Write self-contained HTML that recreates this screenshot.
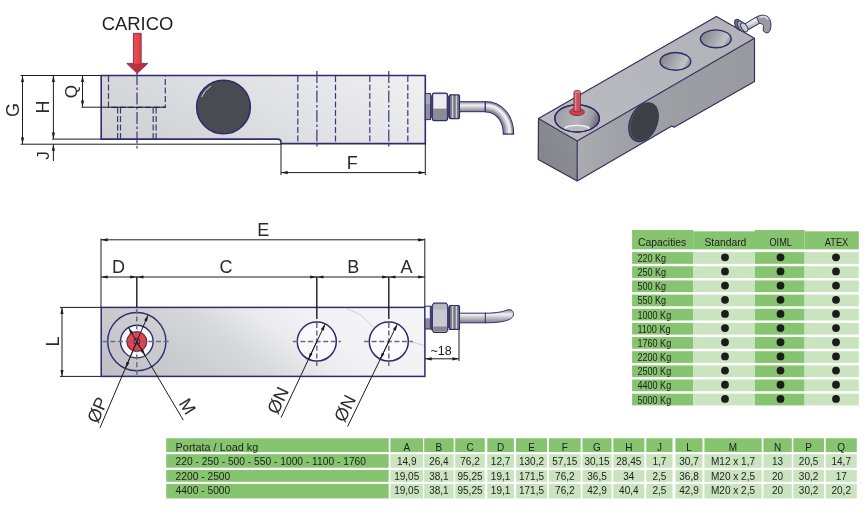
<!DOCTYPE html>
<html>
<head>
<meta charset="utf-8">
<title>Load cell drawing</title>
<style>
html,body{margin:0;padding:0;background:#fff;}
body{width:867px;height:518px;overflow:hidden;font-family:"Liberation Sans",sans-serif;}
svg{display:block;will-change:transform;}
svg text{font-family:"Liberation Sans",sans-serif;fill:#1e1e1e;}
.lbl{fill:#2b2b2b;}
.dim{stroke:#1c1c1c;stroke-width:1;fill:none;}
.ol{stroke:#2f2c6e;stroke-width:1.6;fill:none;}
.hid{stroke:#3a3870;stroke-width:1.2;fill:none;stroke-dasharray:6 2.5;}
.ctr{stroke:#3a3870;stroke-width:1.2;fill:none;stroke-dasharray:12 2.5 2.5 2.5;}
.cl{stroke:#6a6992;stroke-width:1.5;fill:none;stroke-dasharray:5 2.6;}
.lbl{font-size:18px;}
.tb{font-size:10.5px;}
.tc{font-size:10.5px;text-anchor:middle;}
</style>
</head>
<body>
<svg width="867" height="518" viewBox="0 0 867 518">
<defs>
  <linearGradient id="gBody" gradientUnits="userSpaceOnUse" x1="101" y1="143" x2="221" y2="-49">
    <stop offset="0" stop-color="#cecfd3"/>
    <stop offset="1" stop-color="#f0f0f3"/>
  </linearGradient>
  <linearGradient id="gPlan" gradientUnits="userSpaceOnUse" x1="101" y1="376" x2="266.6" y2="169.3">
    <stop offset="0" stop-color="#bebfc4"/>
    <stop offset="0.1" stop-color="#c4c5c9"/>
    <stop offset="0.27" stop-color="#cdced2"/>
    <stop offset="0.41" stop-color="#d8d9dc"/>
    <stop offset="0.55" stop-color="#ebebee"/>
    <stop offset="0.67" stop-color="#f2f2f4"/>
    <stop offset="1" stop-color="#f5f5f7"/>
  </linearGradient>
  <linearGradient id="gArrow" x1="0" y1="0" x2="1" y2="0">
    <stop offset="0" stop-color="#c8323c"/>
    <stop offset="0.4" stop-color="#f04a4a"/>
    <stop offset="1" stop-color="#c42f3a"/>
  </linearGradient>
  <linearGradient id="gCable" x1="0" y1="0" x2="0" y2="1">
    <stop offset="0" stop-color="#8a8a94"/>
    <stop offset="0.35" stop-color="#f2f2f5"/>
    <stop offset="1" stop-color="#7d7d88"/>
  </linearGradient>
  <linearGradient id="gRing" x1="0" y1="0" x2="1" y2="0">
    <stop offset="0" stop-color="#6d6d78"/>
    <stop offset="0.5" stop-color="#c9c9cf"/>
    <stop offset="1" stop-color="#6d6d78"/>
  </linearGradient>
  <marker id="ah" viewBox="0 0 10 6" refX="10" refY="3" markerWidth="7" markerHeight="4" orient="auto-start-reverse" markerUnits="userSpaceOnUse">
    <path d="M0,0.6 L10,3 L0,5.4 Z" fill="#1c1c1c"/>
  </marker>
</defs>

<!-- ================= SIDE VIEW ================= -->
<g id="side">
  <!-- body -->
  <path d="M101.2,75.5 H425.3 V143.6 H281 V142 Q281,139.1 277.5,139.1 H101.2 Z" fill="url(#gBody)" class="ol" style="fill:url(#gBody)"/>
  <!-- big hole -->
  <circle cx="223.5" cy="107" r="26.8" fill="#4a4a53" stroke="#2f2c6e" stroke-width="1.6"/>
  <path d="M201.5,97 A24.5,24.5 0 0 1 211,86" stroke="#e8e8ee" stroke-width="0.9" fill="none"/>
  <!-- hidden lines -->
  <path class="hid" d="M108.5,76 V107.3 H165.3 V76"/>
  <path class="hid" d="M117.6,107.5 V139 M120.5,107.5 V139 M153.2,107.5 V139 M156.1,107.5 V139"/>
  <path class="ctr" d="M137,73 V149"/>
  <path class="hid" d="M297.8,76 V143 M335.5,76 V143 M369.8,76 V143 M407.8,76 V143"/>
  <path class="ctr" d="M316.9,71 V148 M388.8,71 V148"/>
  <!-- dims -->
  <path class="dim" d="M20.5,75.5 H101 M20.5,144.2 H281"/>
  <path class="dim" d="M22.5,75.5 V144.2" marker-start="url(#ah)" marker-end="url(#ah)"/>
  <path class="dim" d="M53.4,75.5 V139.1" marker-start="url(#ah)" marker-end="url(#ah)"/>
  <path class="dim" d="M52,139.1 H101"/>
  <path class="dim" d="M53.4,161 V144.2" marker-end="url(#ah)"/>
  <path class="dim" d="M82.5,75.5 V107.2" marker-start="url(#ah)" marker-end="url(#ah)"/>
  <path class="dim" d="M81.5,107.2 H165.3"/>
  <path class="dim" d="M281,143.5 V175 M425.3,143.5 V175"/>
  <path class="dim" d="M281,172.6 H425.3" marker-start="url(#ah)" marker-end="url(#ah)"/>
  <text class="lbl" x="352.3" y="169" text-anchor="middle">F</text>
  <text class="lbl" transform="translate(18.8,110) rotate(-90)" text-anchor="middle">G</text>
  <text class="lbl" transform="translate(49.3,107) rotate(-90)" text-anchor="middle">H</text>
  <text class="lbl" transform="translate(77.3,91.6) rotate(-90)" text-anchor="middle" style="font-size:17px">Q</text>
  <text class="lbl" transform="translate(49.1,155.6) rotate(-90)" text-anchor="middle" style="font-size:17px">J</text>
  <!-- CARICO arrow -->
  <text x="137.5" y="30.2" text-anchor="middle" style="font-size:18.4px">CARICO</text>
  <path d="M133.4,33.3 H141.2 V63.4 H147.8 L137.2,73.4 L126.8,63.4 H133.4 Z" fill="url(#gArrow)" stroke="#5a2a50" stroke-width="0.8"/>
  <path d="M127.6,63.8 H147 L137.2,72.8 Z" fill="#b8323e"/>
  <!-- connector -->
  <rect x="425.3" y="93.6" width="5.2" height="26" fill="#8e8ea0" stroke="#2f2c6e" stroke-width="1"/>
  <rect x="425.9" y="94.2" width="4.2" height="10" fill="#a9a9b8"/>
  <rect x="430.6" y="95.4" width="2" height="22.6" fill="#4a4870"/>
  <rect x="432.3" y="93.2" width="15.2" height="27.4" rx="2" fill="#8b8b95" stroke="#2f2c6e" stroke-width="1.2"/>
  <path d="M433.4,94.2 H446.4 V108.6 H433.4 Z" fill="#ececf1"/>
  <rect x="447.6" y="96" width="1.8" height="21.6" fill="#4a4870"/>
  <rect x="449.3" y="94.8" width="10.2" height="23.8" rx="1" fill="#73737f" stroke="#2f2c6e" stroke-width="1.2"/>
  <path d="M452.6,95.4 V118 M456.4,95.4 V118" stroke="#cfcfd8" stroke-width="1.5"/>
  <path d="M459.5,101.7 H485.3 V111.7 H459.5 Z" fill="url(#gCable)" stroke="#2f2c6e" stroke-width="1"/>
  <path d="M485.3,106.7 C498,106.7 508.5,117 508.5,134.1" fill="none" stroke="#2f2c6e" stroke-width="11.4"/>
  <path d="M485.8,106.7 C498,106.7 508.5,117 508.5,133.6" fill="none" stroke="#8e8e99" stroke-width="9.4"/>
  <path d="M485.8,106.2 C498.4,106.2 509,117 509,133.6" fill="none" stroke="#c4c4cc" stroke-width="6"/>
  <path d="M485.8,105.6 C498.8,105.6 509.6,117 509.6,133.6" fill="none" stroke="#efeff3" stroke-width="2.6"/>
  <path d="M485.3,101.2 V112.2 M502.8,134.2 H514.2" stroke="#2f2c6e" stroke-width="1"/>
</g>

<!-- ================= ISO VIEW ================= -->
<g id="iso">
  <defs>
    <linearGradient id="gTop" x1="0" y1="1" x2="1" y2="0">
      <stop offset="0" stop-color="#bbbcc1"/><stop offset="1" stop-color="#b1b2b7"/>
    </linearGradient>
    <linearGradient id="gFront" x1="0" y1="0" x2="1" y2="0">
      <stop offset="0" stop-color="#abacb0"/><stop offset="0.25" stop-color="#a0a1a6"/><stop offset="1" stop-color="#999a9f"/>
    </linearGradient>
    <linearGradient id="gLeft" x1="0" y1="1" x2="1" y2="0">
      <stop offset="0" stop-color="#818287"/><stop offset="1" stop-color="#909196"/>
    </linearGradient>
    <linearGradient id="gHole" x1="0" y1="0" x2="1" y2="0.3">
      <stop offset="0" stop-color="#7d7e85"/><stop offset="0.55" stop-color="#a6a7ac"/><stop offset="0.9" stop-color="#c2c3c7"/><stop offset="1" stop-color="#a0a1a7"/>
    </linearGradient>
    <linearGradient id="gHoleL" x1="0" y1="0" x2="1" y2="0.2">
      <stop offset="0" stop-color="#9a9ba1"/><stop offset="0.6" stop-color="#b4b5ba"/><stop offset="0.88" stop-color="#9d9ea4"/><stop offset="1" stop-color="#77787f"/>
    </linearGradient>
  </defs>
  <path d="M538.5,118.6 L577.2,141 L577.2,181 L538.2,159.5 Z" fill="url(#gLeft)"/>
  <path d="M577.2,141 L754.5,38.3 L754.5,81.6 L674.1,127.3 L671.8,125.9 L577.2,181 Z" fill="url(#gFront)"/>
  <path d="M538.5,118.6 L716.4,16.4 L754.5,38.3 L577.2,141 Z" fill="url(#gTop)"/>
  <path d="M538.5,118.6 L716.4,16.4 L754.5,38.3 L754.5,81.6 L674.1,127.3 L671.8,125.9 L577.2,181 L538.2,159.5 Z M538.5,118.6 L577.2,141 L754.5,38.3 M577.2,141 V181" fill="none" stroke="#33315f" stroke-width="1.2" stroke-linejoin="round"/>
  <!-- left hole -->
  <ellipse cx="577.1" cy="118.4" rx="22.3" ry="13.6" fill="url(#gHoleL)" stroke="#2d2b64" stroke-width="1.3"/>
  <path d="M565.2,129.5 A12,3.4 0 0 1 589,129.5" fill="none" stroke="#f4f4f6" stroke-width="1.1"/>
  <path d="M564.5,128.6 A12.6,3.6 0 0 1 589.6,128.6 Q577,134.5 564.5,128.6 Z" fill="#b9babf" stroke="none"/>
  <path d="M564.6,128.8 A12.4,3.4 0 0 1 589.4,128.8" fill="none" stroke="#f7f7f9" stroke-width="1.2"/>
  <ellipse cx="577.1" cy="118.4" rx="22.3" ry="13.6" fill="none" stroke="#2d2b64" stroke-width="1.3"/>
  <!-- red pin -->
  <ellipse cx="577" cy="112" rx="7.4" ry="3.6" fill="#d2404e" stroke="#7a2a48" stroke-width="0.9"/>
  <path d="M573.9,92.2 Q573.9,90.3 577.2,90.3 Q580.5,90.3 580.5,92.2 V111.4 Q577.2,112.6 573.9,111.4 Z" fill="#c9505a" stroke="#7a2a48" stroke-width="0.8"/>
  <path d="M575.6,93.5 V110.5" stroke="#e5858c" stroke-width="1.4"/>
  <ellipse cx="577.2" cy="92" rx="3" ry="1.3" fill="#dc7a82"/>
  <!-- mid / right holes -->
  <ellipse cx="675.4" cy="61.4" rx="15.3" ry="8.9" fill="url(#gHole)" stroke="#2d2b64" stroke-width="1.4"/>
  <ellipse cx="715.8" cy="38.8" rx="15.4" ry="8.9" fill="url(#gHole)" stroke="#2d2b64" stroke-width="1.4"/>
  <!-- side hole -->
  <ellipse cx="643.5" cy="122.2" rx="13.4" ry="20.3" transform="rotate(24 643.5 122.2)" fill="#57575f" stroke="#2f2d5c" stroke-width="1.2"/>
  <ellipse cx="644.4" cy="121.6" rx="12.4" ry="19.6" transform="rotate(24 644.4 121.6)" fill="#3f3f46"/>
  <!-- iso connector -->
  <g>
    <linearGradient id="gIsoCable" x1="0" y1="0" x2="0.5" y2="1">
      <stop offset="0" stop-color="#8f8f99"/><stop offset="0.45" stop-color="#f4f4f7"/><stop offset="1" stop-color="#8a8a95"/>
    </linearGradient>
    <path d="M744.5,24.3 L756.4,17 C760,14.8 765,14.4 768,17 C771,19.8 771.3,25 770.6,28 C770,31.5 768.6,33.1 767,32.9 C765,32.6 763.3,31.6 763.2,30 C763.3,27.5 764,25.6 762.7,24.5 C761.6,23.6 760,23.2 758.8,23.6 L747.6,30 Z" fill="#9a9aa5" stroke="#33315f" stroke-width="1"/>
    <path d="M744.5,24.3 L756.4,17 L759.3,23.3 L747.6,30 Z" fill="url(#gIsoCable)" stroke="#33315f" stroke-width="0.9"/>
    <path d="M759.5,17.6 C763,15.8 766.5,16.6 768.3,19.5" stroke="#e4e4ea" stroke-width="1.4" fill="none"/>
    <ellipse cx="739" cy="25" rx="3.6" ry="6.3" transform="rotate(-32 739 25)" fill="#6f6f7a" stroke="#33315f" stroke-width="1"/>
    <ellipse cx="741.6" cy="26.2" rx="3.4" ry="6" transform="rotate(-32 741.6 26.2)" fill="#a4a4ae" stroke="#33315f" stroke-width="1"/>
    <ellipse cx="744.3" cy="27.3" rx="2.8" ry="5" transform="rotate(-32 744.3 27.3)" fill="#c9c9d0" stroke="#33315f" stroke-width="0.9"/>
  </g>
</g>

<!-- ================= PLAN VIEW ================= -->
<g id="plan">
  <rect x="101.2" y="307.4" width="323.7" height="69" fill="url(#gPlan)" stroke="#2f2c6e" stroke-width="1.5"/>
  <!-- faint scratch -->
  <path d="M345.8,308.2 L359.7,314.1 L374.5,328 M408.4,341 L424,345.4" stroke="#bfc0c6" stroke-width="0.7" fill="none"/>
  <!-- left hole group -->
  <circle cx="136.8" cy="341.6" r="29.1" fill="none" stroke="#2f2c6e" stroke-width="1.4"/>
  <circle cx="136.8" cy="341.6" r="16.3" fill="#f8f8fa" stroke="#2f2c6e" stroke-width="1.4"/>
  <circle cx="136.8" cy="341.6" r="9.9" fill="#e7434b" stroke="#7a2840" stroke-width="1.3"/>
  <circle cx="136.8" cy="341.6" r="3.1" fill="none" stroke="#3a2350" stroke-width="1"/>
  <path class="cl" d="M102.8,341.6 H170.6"/>
  <path class="cl" d="M136.8,309 V376"/>
  <!-- holes N -->
  <circle cx="316.8" cy="341.6" r="19.5" fill="#f9f9fb" stroke="#2f2c6e" stroke-width="1.5"/>
  <circle cx="388.8" cy="341.6" r="19.5" fill="#fbfbfc" stroke="#2f2c6e" stroke-width="1.5"/>
  <path class="cl" d="M292.8,341.6 H341 M364,341.6 H412.8"/>
  <path class="cl" d="M316.8,323 V366.3 M388.8,323 V366.3"/>
  <!-- dims -->
  <path class="dim" d="M101,238.5 V307 M424.8,238.5 V307"/>
  <path class="dim" d="M101,239.8 H424.8" marker-start="url(#ah)" marker-end="url(#ah)"/>
  <path class="dim" d="M101,277 H136.8" marker-start="url(#ah)" marker-end="url(#ah)"/>
  <path class="dim" d="M136.8,277 H316.8" marker-start="url(#ah)" marker-end="url(#ah)"/>
  <path class="dim" d="M316.8,277 H388.8" marker-start="url(#ah)" marker-end="url(#ah)"/>
  <path class="dim" d="M388.8,277 H424.8" marker-start="url(#ah)" marker-end="url(#ah)"/>
  <path class="dim" d="M136.8,276.5 V307 M316.8,276.5 V319 M388.8,276.5 V319" style="stroke-width:1.4"/>
  <path class="dim" d="M60,307.4 H101 M60,376.4 H101"/>
  <path class="dim" d="M62,307.4 V376.4" marker-start="url(#ah)" marker-end="url(#ah)"/>
  <path class="dim" d="M100,427.8 L148.2,314.8" marker-end="url(#ah)"/>
  <path class="dim" d="M136.8,341.6 L125.4,368.4" marker-end="url(#ah)"/>
  <path class="dim" d="M183.3,420.2 L128.5,327.6" marker-end="url(#ah)"/>
  <path class="dim" d="M136.8,341.6 L145.1,355.6" marker-end="url(#ah)"/>
  <path class="dim" d="M281,417.7 L325.1,324.0" marker-end="url(#ah)"/>
  <path class="dim" d="M316.8,341.6 L308.5,359.2" marker-end="url(#ah)"/>
  <path class="dim" d="M347.6,426.5 L397.3,324.1" marker-end="url(#ah)"/>
  <path class="dim" d="M388.8,341.6 L380.3,359.1" marker-end="url(#ah)"/>
  <!-- labels -->
  <text class="lbl" x="263.3" y="235.8" text-anchor="middle">E</text>
  <text class="lbl" x="118.4" y="273" text-anchor="middle">D</text>
  <text class="lbl" x="226" y="273" text-anchor="middle">C</text>
  <text class="lbl" x="353.2" y="273" text-anchor="middle">B</text>
  <text class="lbl" x="406.5" y="273" text-anchor="middle">A</text>
  <text class="lbl" transform="translate(59,341.6) rotate(-90)" text-anchor="middle">L</text>
  <text class="lbl" transform="translate(103,412.3) rotate(-67)" text-anchor="middle" style="font-size:18px">ØP</text>
  <text class="lbl" transform="translate(182.2,409.6) rotate(58)" text-anchor="middle" style="font-size:18px">M</text>
  <text class="lbl" transform="translate(283.5,403) rotate(-65)" text-anchor="middle" style="font-size:18px">ØN</text>
  <text class="lbl" transform="translate(350.5,411) rotate(-64)" text-anchor="middle" style="font-size:18px">ØN</text>
  <!-- connector plan -->
  <rect x="425" y="306.2" width="5.4" height="22.8" fill="#8a8a96" stroke="#2f2c6e" stroke-width="1"/>
  <rect x="425.7" y="306.9" width="4" height="11.4" fill="#f6f6f9"/>
  <rect x="430.5" y="306" width="2" height="24" fill="#4a4870"/>
  <path d="M434,303.1 H446 L447.7,305.4 V330.2 L446,332.5 H434 L432.3,330.2 V305.4 Z" fill="#c9c9d0" stroke="#2f2c6e" stroke-width="1.2"/>
  <path d="M433.2,326.4 H446.9 V330 L445.7,331.7 H434.4 L433.2,330 Z" fill="#878792"/>
  <path d="M433.2,309.8 H446.9 V305.6 L445.7,303.9 H434.4 L433.2,305.6 Z" fill="#b7b7c0"/>
  <rect x="447.7" y="307" width="1.8" height="21" fill="#4a4870"/>
  <rect x="449.3" y="305.5" width="10.2" height="23.9" rx="1" fill="#73737f" stroke="#2f2c6e" stroke-width="1.2"/>
  <path d="M452.6,306.1 V328.8 M456.4,306.1 V328.8" stroke="#cfcfd8" stroke-width="1.5"/>
  <path d="M459.5,313.2 H485.3 C497,313.2 503,311.6 507,310 C511.5,308.6 514,311.5 513.4,315 C512.6,319.5 505,322.8 485.3,322.8 H459.5 Z" fill="url(#gCable)" stroke="#2f2c6e" stroke-width="1"/>
  <path d="M485.3,312.6 V323.2" stroke="#2f2c6e" stroke-width="1"/>
  <!-- ~18 -->
  <path class="dim" d="M459,329.5 V361"/>
  <path class="dim" d="M425,358.8 H459" marker-start="url(#ah)" marker-end="url(#ah)"/>
  <text x="441" y="354.6" text-anchor="middle" style="font-size:12.5px">~18</text>
</g>

<!--TABLES-->
<g id="cap">
<rect x="632.1" y="230.0" width="61.1" height="19.3" fill="#86c46f"/>
<rect x="693.2" y="231.3" width="61.8" height="18.0" fill="#86c46f"/>
<rect x="755" y="230.0" width="49.6" height="19.3" fill="#86c46f"/>
<rect x="804.6" y="231.3" width="54.2" height="18.0" fill="#86c46f"/>
<text class="tb" transform="translate(638.0,245.7) scale(0.985,1)">Capacities</text>
<text class="tb" transform="translate(725.4,245.7) scale(0.985,1)" text-anchor="middle">Standard</text>
<text class="tb" transform="translate(780.7,245.7) scale(0.875,1)" text-anchor="middle">OIML</text>
<text class="tb" transform="translate(836.5,245.7) scale(0.885,1)" text-anchor="middle">ATEX</text>
<rect x="632.1" y="252.10" width="61.1" height="11.7" fill="#86c46f"/>
<rect x="693.2" y="252.10" width="61.8" height="11.7" fill="#c9e4bf"/>
<rect x="755" y="252.10" width="49.6" height="11.7" fill="#86c46f"/>
<rect x="804.6" y="252.10" width="54.2" height="11.7" fill="#c9e4bf"/>
<text class="tb" transform="translate(637.4,261.9) scale(0.865,1)">220 Kg</text>
<circle cx="725" cy="257.30" r="3.9" fill="#1c1c1c"/>
<circle cx="780.5" cy="257.30" r="3.9" fill="#1c1c1c"/>
<circle cx="836" cy="257.30" r="3.9" fill="#1c1c1c"/>
<rect x="632.1" y="266.26" width="61.1" height="11.7" fill="#86c46f"/>
<rect x="693.2" y="266.26" width="61.8" height="11.7" fill="#c9e4bf"/>
<rect x="755" y="266.26" width="49.6" height="11.7" fill="#86c46f"/>
<rect x="804.6" y="266.26" width="54.2" height="11.7" fill="#c9e4bf"/>
<text class="tb" transform="translate(637.4,276.1) scale(0.865,1)">250 Kg</text>
<circle cx="725" cy="271.46" r="3.9" fill="#1c1c1c"/>
<circle cx="780.5" cy="271.46" r="3.9" fill="#1c1c1c"/>
<circle cx="836" cy="271.46" r="3.9" fill="#1c1c1c"/>
<rect x="632.1" y="280.42" width="61.1" height="11.7" fill="#86c46f"/>
<rect x="693.2" y="280.42" width="61.8" height="11.7" fill="#c9e4bf"/>
<rect x="755" y="280.42" width="49.6" height="11.7" fill="#86c46f"/>
<rect x="804.6" y="280.42" width="54.2" height="11.7" fill="#c9e4bf"/>
<text class="tb" transform="translate(637.4,290.2) scale(0.865,1)">500 Kg</text>
<circle cx="725" cy="285.62" r="3.9" fill="#1c1c1c"/>
<circle cx="780.5" cy="285.62" r="3.9" fill="#1c1c1c"/>
<circle cx="836" cy="285.62" r="3.9" fill="#1c1c1c"/>
<rect x="632.1" y="294.58" width="61.1" height="11.7" fill="#86c46f"/>
<rect x="693.2" y="294.58" width="61.8" height="11.7" fill="#c9e4bf"/>
<rect x="755" y="294.58" width="49.6" height="11.7" fill="#86c46f"/>
<rect x="804.6" y="294.58" width="54.2" height="11.7" fill="#c9e4bf"/>
<text class="tb" transform="translate(637.4,304.4) scale(0.865,1)">550 Kg</text>
<circle cx="725" cy="299.78" r="3.9" fill="#1c1c1c"/>
<circle cx="780.5" cy="299.78" r="3.9" fill="#1c1c1c"/>
<circle cx="836" cy="299.78" r="3.9" fill="#1c1c1c"/>
<rect x="632.1" y="308.74" width="61.1" height="11.7" fill="#86c46f"/>
<rect x="693.2" y="308.74" width="61.8" height="11.7" fill="#c9e4bf"/>
<rect x="755" y="308.74" width="49.6" height="11.7" fill="#86c46f"/>
<rect x="804.6" y="308.74" width="54.2" height="11.7" fill="#c9e4bf"/>
<text class="tb" transform="translate(637.4,318.5) scale(0.865,1)">1000 Kg</text>
<circle cx="725" cy="313.94" r="3.9" fill="#1c1c1c"/>
<circle cx="780.5" cy="313.94" r="3.9" fill="#1c1c1c"/>
<circle cx="836" cy="313.94" r="3.9" fill="#1c1c1c"/>
<rect x="632.1" y="322.90" width="61.1" height="11.7" fill="#86c46f"/>
<rect x="693.2" y="322.90" width="61.8" height="11.7" fill="#c9e4bf"/>
<rect x="755" y="322.90" width="49.6" height="11.7" fill="#86c46f"/>
<rect x="804.6" y="322.90" width="54.2" height="11.7" fill="#c9e4bf"/>
<text class="tb" transform="translate(637.4,332.7) scale(0.865,1)">1100 Kg</text>
<circle cx="725" cy="328.10" r="3.9" fill="#1c1c1c"/>
<circle cx="780.5" cy="328.10" r="3.9" fill="#1c1c1c"/>
<circle cx="836" cy="328.10" r="3.9" fill="#1c1c1c"/>
<rect x="632.1" y="337.06" width="61.1" height="11.7" fill="#86c46f"/>
<rect x="693.2" y="337.06" width="61.8" height="11.7" fill="#c9e4bf"/>
<rect x="755" y="337.06" width="49.6" height="11.7" fill="#86c46f"/>
<rect x="804.6" y="337.06" width="54.2" height="11.7" fill="#c9e4bf"/>
<text class="tb" transform="translate(637.4,346.9) scale(0.865,1)">1760 Kg</text>
<circle cx="725" cy="342.26" r="3.9" fill="#1c1c1c"/>
<circle cx="780.5" cy="342.26" r="3.9" fill="#1c1c1c"/>
<circle cx="836" cy="342.26" r="3.9" fill="#1c1c1c"/>
<rect x="632.1" y="351.22" width="61.1" height="11.7" fill="#86c46f"/>
<rect x="693.2" y="351.22" width="61.8" height="11.7" fill="#c9e4bf"/>
<rect x="755" y="351.22" width="49.6" height="11.7" fill="#86c46f"/>
<rect x="804.6" y="351.22" width="54.2" height="11.7" fill="#c9e4bf"/>
<text class="tb" transform="translate(637.4,361.0) scale(0.865,1)">2200 Kg</text>
<circle cx="725" cy="356.42" r="3.9" fill="#1c1c1c"/>
<circle cx="780.5" cy="356.42" r="3.9" fill="#1c1c1c"/>
<circle cx="836" cy="356.42" r="3.9" fill="#1c1c1c"/>
<rect x="632.1" y="365.38" width="61.1" height="11.7" fill="#86c46f"/>
<rect x="693.2" y="365.38" width="61.8" height="11.7" fill="#c9e4bf"/>
<rect x="755" y="365.38" width="49.6" height="11.7" fill="#86c46f"/>
<rect x="804.6" y="365.38" width="54.2" height="11.7" fill="#c9e4bf"/>
<text class="tb" transform="translate(637.4,375.2) scale(0.865,1)">2500 Kg</text>
<circle cx="725" cy="370.58" r="3.9" fill="#1c1c1c"/>
<circle cx="780.5" cy="370.58" r="3.9" fill="#1c1c1c"/>
<circle cx="836" cy="370.58" r="3.9" fill="#1c1c1c"/>
<rect x="632.1" y="379.54" width="61.1" height="11.7" fill="#86c46f"/>
<rect x="693.2" y="379.54" width="61.8" height="11.7" fill="#c9e4bf"/>
<rect x="755" y="379.54" width="49.6" height="11.7" fill="#86c46f"/>
<rect x="804.6" y="379.54" width="54.2" height="11.7" fill="#c9e4bf"/>
<text class="tb" transform="translate(637.4,389.3) scale(0.865,1)">4400 Kg</text>
<circle cx="725" cy="384.74" r="3.9" fill="#1c1c1c"/>
<circle cx="780.5" cy="384.74" r="3.9" fill="#1c1c1c"/>
<circle cx="836" cy="384.74" r="3.9" fill="#1c1c1c"/>
<rect x="632.1" y="393.70" width="61.1" height="11.7" fill="#86c46f"/>
<rect x="693.2" y="393.70" width="61.8" height="11.7" fill="#c9e4bf"/>
<rect x="755" y="393.70" width="49.6" height="11.7" fill="#86c46f"/>
<rect x="804.6" y="393.70" width="54.2" height="11.7" fill="#c9e4bf"/>
<text class="tb" transform="translate(637.4,403.5) scale(0.865,1)">5000 Kg</text>
<circle cx="725" cy="398.90" r="3.9" fill="#1c1c1c"/>
<circle cx="780.5" cy="398.90" r="3.9" fill="#1c1c1c"/>
<circle cx="836" cy="398.90" r="3.9" fill="#1c1c1c"/>
</g>
<g id="dimt">
<rect x="166.2" y="438.2" width="222.5" height="13.9" fill="#86c46f"/>
<text class="tb" transform="translate(175.6,450.5) scale(1.035,1)">Portata / Load kg</text>
<rect x="166.2" y="454.2" width="222.5" height="13.5" fill="#86c46f"/>
<text class="tb" transform="translate(175.6,464.9) scale(0.976,1)">220 - 250 - 500 - 550 - 1000 - 1100 - 1760</text>
<rect x="166.2" y="470" width="222.5" height="11.8" fill="#86c46f"/>
<text class="tb" transform="translate(175.6,479.7) scale(0.976,1)">2200 - 2500</text>
<rect x="166.2" y="483.9" width="222.5" height="14.5" fill="#86c46f"/>
<text class="tb" transform="translate(175.6,494.2) scale(0.976,1)">4400 - 5000</text>
<rect x="390.4" y="438.2" width="32.6" height="13.9" fill="#86c46f"/>
<text class="tb" transform="translate(406.7,450.5) scale(0.95,1)" text-anchor="middle">A</text>
<rect x="390.4" y="454.2" width="32.6" height="13.5" fill="#c9e4bf"/>
<text class="tb" transform="translate(406.7,464.9) scale(0.955,1)" text-anchor="middle">14,9</text>
<rect x="390.4" y="470" width="32.6" height="11.8" fill="#c9e4bf"/>
<text class="tb" transform="translate(406.7,479.7) scale(0.955,1)" text-anchor="middle">19,05</text>
<rect x="390.4" y="483.9" width="32.6" height="14.5" fill="#c9e4bf"/>
<text class="tb" transform="translate(406.7,494.2) scale(0.955,1)" text-anchor="middle">19,05</text>
<rect x="424.2" y="438.2" width="29.5" height="13.9" fill="#86c46f"/>
<text class="tb" transform="translate(438.9,450.5) scale(0.95,1)" text-anchor="middle">B</text>
<rect x="424.2" y="454.2" width="29.5" height="13.5" fill="#c9e4bf"/>
<text class="tb" transform="translate(438.9,464.9) scale(0.955,1)" text-anchor="middle">26,4</text>
<rect x="424.2" y="470" width="29.5" height="11.8" fill="#c9e4bf"/>
<text class="tb" transform="translate(438.9,479.7) scale(0.955,1)" text-anchor="middle">38,1</text>
<rect x="424.2" y="483.9" width="29.5" height="14.5" fill="#c9e4bf"/>
<text class="tb" transform="translate(438.9,494.2) scale(0.955,1)" text-anchor="middle">38,1</text>
<rect x="455.2" y="438.2" width="29.6" height="13.9" fill="#86c46f"/>
<text class="tb" transform="translate(470.0,450.5) scale(0.95,1)" text-anchor="middle">C</text>
<rect x="455.2" y="454.2" width="29.6" height="13.5" fill="#c9e4bf"/>
<text class="tb" transform="translate(470.0,464.9) scale(0.955,1)" text-anchor="middle">76,2</text>
<rect x="455.2" y="470" width="29.6" height="11.8" fill="#c9e4bf"/>
<text class="tb" transform="translate(470.0,479.7) scale(0.955,1)" text-anchor="middle">95,25</text>
<rect x="455.2" y="483.9" width="29.6" height="14.5" fill="#c9e4bf"/>
<text class="tb" transform="translate(470.0,494.2) scale(0.955,1)" text-anchor="middle">95,25</text>
<rect x="487.3" y="438.2" width="26.6" height="13.9" fill="#86c46f"/>
<text class="tb" transform="translate(500.6,450.5) scale(0.95,1)" text-anchor="middle">D</text>
<rect x="487.3" y="454.2" width="26.6" height="13.5" fill="#c9e4bf"/>
<text class="tb" transform="translate(500.6,464.9) scale(0.955,1)" text-anchor="middle">12,7</text>
<rect x="487.3" y="470" width="26.6" height="11.8" fill="#c9e4bf"/>
<text class="tb" transform="translate(500.6,479.7) scale(0.955,1)" text-anchor="middle">19,1</text>
<rect x="487.3" y="483.9" width="26.6" height="14.5" fill="#c9e4bf"/>
<text class="tb" transform="translate(500.6,494.2) scale(0.955,1)" text-anchor="middle">19,1</text>
<rect x="516" y="438.2" width="31.0" height="13.9" fill="#86c46f"/>
<text class="tb" transform="translate(531.5,450.5) scale(0.95,1)" text-anchor="middle">E</text>
<rect x="516" y="454.2" width="31.0" height="13.5" fill="#c9e4bf"/>
<text class="tb" transform="translate(531.5,464.9) scale(0.955,1)" text-anchor="middle">130,2</text>
<rect x="516" y="470" width="31.0" height="11.8" fill="#c9e4bf"/>
<text class="tb" transform="translate(531.5,479.7) scale(0.955,1)" text-anchor="middle">171,5</text>
<rect x="516" y="483.9" width="31.0" height="14.5" fill="#c9e4bf"/>
<text class="tb" transform="translate(531.5,494.2) scale(0.955,1)" text-anchor="middle">171,5</text>
<rect x="548.9" y="438.2" width="31.8" height="13.9" fill="#86c46f"/>
<text class="tb" transform="translate(564.8,450.5) scale(0.95,1)" text-anchor="middle">F</text>
<rect x="548.9" y="454.2" width="31.8" height="13.5" fill="#c9e4bf"/>
<text class="tb" transform="translate(564.8,464.9) scale(0.955,1)" text-anchor="middle">57,15</text>
<rect x="548.9" y="470" width="31.8" height="11.8" fill="#c9e4bf"/>
<text class="tb" transform="translate(564.8,479.7) scale(0.955,1)" text-anchor="middle">76,2</text>
<rect x="548.9" y="483.9" width="31.8" height="14.5" fill="#c9e4bf"/>
<text class="tb" transform="translate(564.8,494.2) scale(0.955,1)" text-anchor="middle">76,2</text>
<rect x="582.4" y="438.2" width="29.2" height="13.9" fill="#86c46f"/>
<text class="tb" transform="translate(597.0,450.5) scale(0.95,1)" text-anchor="middle">G</text>
<rect x="582.4" y="454.2" width="29.2" height="13.5" fill="#c9e4bf"/>
<text class="tb" transform="translate(597.0,464.9) scale(0.955,1)" text-anchor="middle">30,15</text>
<rect x="582.4" y="470" width="29.2" height="11.8" fill="#c9e4bf"/>
<text class="tb" transform="translate(597.0,479.7) scale(0.955,1)" text-anchor="middle">36,5</text>
<rect x="582.4" y="483.9" width="29.2" height="14.5" fill="#c9e4bf"/>
<text class="tb" transform="translate(597.0,494.2) scale(0.955,1)" text-anchor="middle">42,9</text>
<rect x="613.3" y="438.2" width="31.1" height="13.9" fill="#86c46f"/>
<text class="tb" transform="translate(628.8,450.5) scale(0.95,1)" text-anchor="middle">H</text>
<rect x="613.3" y="454.2" width="31.1" height="13.5" fill="#c9e4bf"/>
<text class="tb" transform="translate(628.8,464.9) scale(0.955,1)" text-anchor="middle">28,45</text>
<rect x="613.3" y="470" width="31.1" height="11.8" fill="#c9e4bf"/>
<text class="tb" transform="translate(628.8,479.7) scale(0.955,1)" text-anchor="middle">34</text>
<rect x="613.3" y="483.9" width="31.1" height="14.5" fill="#c9e4bf"/>
<text class="tb" transform="translate(628.8,494.2) scale(0.955,1)" text-anchor="middle">40,4</text>
<rect x="646.3" y="438.2" width="26.2" height="13.9" fill="#86c46f"/>
<text class="tb" transform="translate(659.4,450.5) scale(0.95,1)" text-anchor="middle">J</text>
<rect x="646.3" y="454.2" width="26.2" height="13.5" fill="#c9e4bf"/>
<text class="tb" transform="translate(659.4,464.9) scale(0.955,1)" text-anchor="middle">1,7</text>
<rect x="646.3" y="470" width="26.2" height="11.8" fill="#c9e4bf"/>
<text class="tb" transform="translate(659.4,479.7) scale(0.955,1)" text-anchor="middle">2,5</text>
<rect x="646.3" y="483.9" width="26.2" height="14.5" fill="#c9e4bf"/>
<text class="tb" transform="translate(659.4,494.2) scale(0.955,1)" text-anchor="middle">2,5</text>
<rect x="675.4" y="438.2" width="27.1" height="13.9" fill="#86c46f"/>
<text class="tb" transform="translate(689.0,450.5) scale(0.95,1)" text-anchor="middle">L</text>
<rect x="675.4" y="454.2" width="27.1" height="13.5" fill="#c9e4bf"/>
<text class="tb" transform="translate(689.0,464.9) scale(0.955,1)" text-anchor="middle">30,7</text>
<rect x="675.4" y="470" width="27.1" height="11.8" fill="#c9e4bf"/>
<text class="tb" transform="translate(689.0,479.7) scale(0.955,1)" text-anchor="middle">36,8</text>
<rect x="675.4" y="483.9" width="27.1" height="14.5" fill="#c9e4bf"/>
<text class="tb" transform="translate(689.0,494.2) scale(0.955,1)" text-anchor="middle">42,9</text>
<rect x="704.4" y="438.2" width="57.3" height="13.9" fill="#86c46f"/>
<text class="tb" transform="translate(733.0,450.5) scale(0.95,1)" text-anchor="middle">M</text>
<rect x="704.4" y="454.2" width="57.3" height="13.5" fill="#c9e4bf"/>
<text class="tb" transform="translate(733.0,464.9) scale(0.955,1)" text-anchor="middle">M12 x 1,7</text>
<rect x="704.4" y="470" width="57.3" height="11.8" fill="#c9e4bf"/>
<text class="tb" transform="translate(733.0,479.7) scale(0.955,1)" text-anchor="middle">M20 x 2,5</text>
<rect x="704.4" y="483.9" width="57.3" height="14.5" fill="#c9e4bf"/>
<text class="tb" transform="translate(733.0,494.2) scale(0.955,1)" text-anchor="middle">M20 x 2,5</text>
<rect x="763.4" y="438.2" width="28.4" height="13.9" fill="#86c46f"/>
<text class="tb" transform="translate(777.6,450.5) scale(0.95,1)" text-anchor="middle">N</text>
<rect x="763.4" y="454.2" width="28.4" height="13.5" fill="#c9e4bf"/>
<text class="tb" transform="translate(777.6,464.9) scale(0.955,1)" text-anchor="middle">13</text>
<rect x="763.4" y="470" width="28.4" height="11.8" fill="#c9e4bf"/>
<text class="tb" transform="translate(777.6,479.7) scale(0.955,1)" text-anchor="middle">20</text>
<rect x="763.4" y="483.9" width="28.4" height="14.5" fill="#c9e4bf"/>
<text class="tb" transform="translate(777.6,494.2) scale(0.955,1)" text-anchor="middle">20</text>
<rect x="793.3" y="438.2" width="30.7" height="13.9" fill="#86c46f"/>
<text class="tb" transform="translate(808.6,450.5) scale(0.95,1)" text-anchor="middle">P</text>
<rect x="793.3" y="454.2" width="30.7" height="13.5" fill="#c9e4bf"/>
<text class="tb" transform="translate(808.6,464.9) scale(0.955,1)" text-anchor="middle">20,5</text>
<rect x="793.3" y="470" width="30.7" height="11.8" fill="#c9e4bf"/>
<text class="tb" transform="translate(808.6,479.7) scale(0.955,1)" text-anchor="middle">30,2</text>
<rect x="793.3" y="483.9" width="30.7" height="14.5" fill="#c9e4bf"/>
<text class="tb" transform="translate(808.6,494.2) scale(0.955,1)" text-anchor="middle">30,2</text>
<rect x="825.7" y="438.2" width="31.1" height="13.9" fill="#86c46f"/>
<text class="tb" transform="translate(841.2,450.5) scale(0.95,1)" text-anchor="middle">Q</text>
<rect x="825.7" y="454.2" width="31.1" height="13.5" fill="#c9e4bf"/>
<text class="tb" transform="translate(841.2,464.9) scale(0.955,1)" text-anchor="middle">14,7</text>
<rect x="825.7" y="470" width="31.1" height="11.8" fill="#c9e4bf"/>
<text class="tb" transform="translate(841.2,479.7) scale(0.955,1)" text-anchor="middle">17</text>
<rect x="825.7" y="483.9" width="31.1" height="14.5" fill="#c9e4bf"/>
<text class="tb" transform="translate(841.2,494.2) scale(0.955,1)" text-anchor="middle">20,2</text>
</g>
<!--/TABLES-->
</svg>
</body>
</html>
